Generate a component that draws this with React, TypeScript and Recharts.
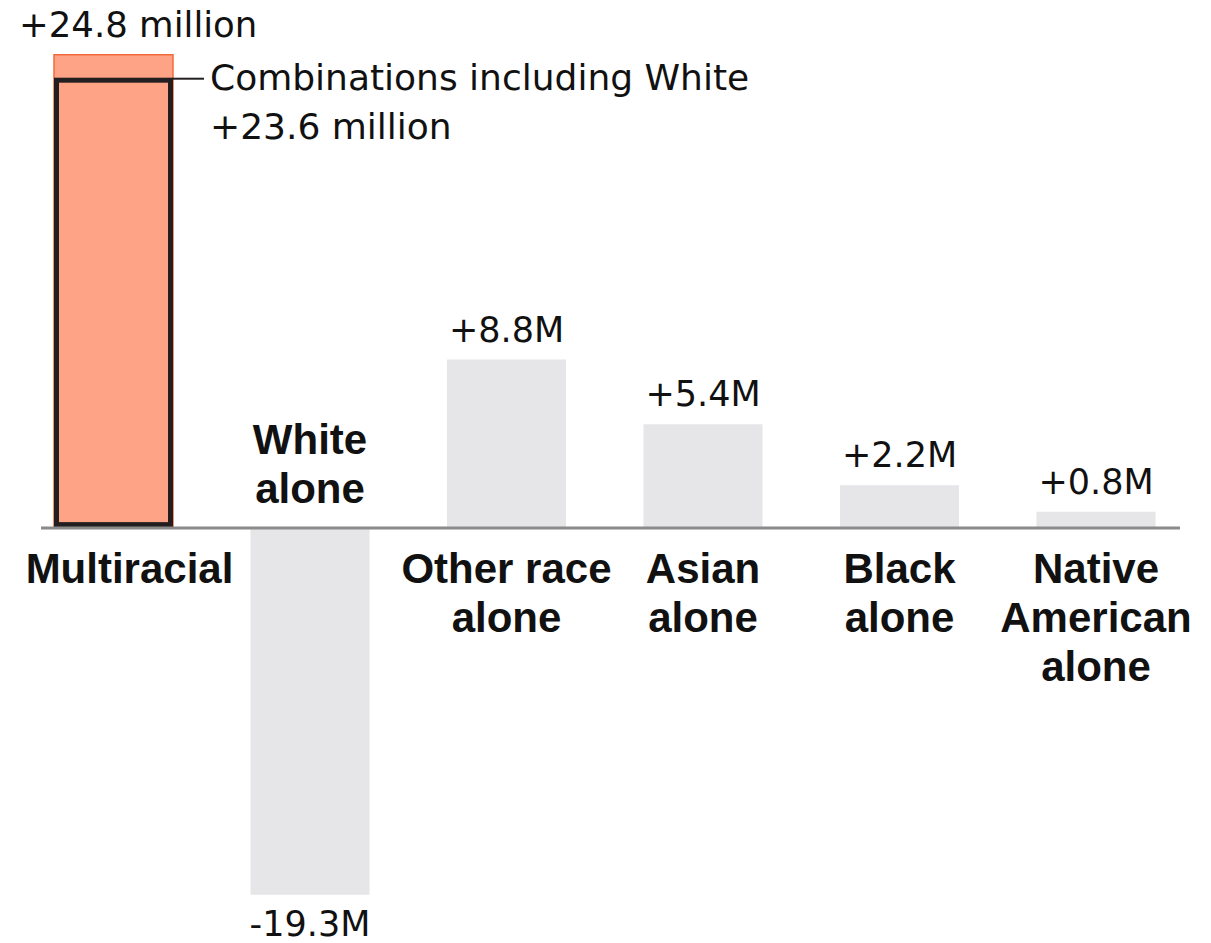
import React from "react";
import { BarChart, Bar, XAxis, YAxis, ReferenceLine, LabelList, Cell } from "recharts";

const categories = ["Multiracial", "White alone", "Other race alone", "Asian alone", "Black alone", "Native American alone"];
const changeMillions = [24.8, -19.3, 8.8, 5.4, 2.2, 0.8];
const whiteCombos = [23.6, null, null, null, null, null];
const valueLabels = ["+24.8 million", "-19.3M", "+8.8M", "+5.4M", "+2.2M", "+0.8M"];
const categoryLines = [["Multiracial"], ["White", "alone"], ["Other race", "alone"], ["Asian", "alone"], ["Black", "alone"], ["Native", "American", "alone"]];
const comboLabel = ["Combinations including White", "+23.6 million"];

const data = categories.map((c, i) => ({
  category: c,
  value: changeMillions[i],
  combo: whiteCombos[i],
  idx: i,
}));

const SALMON = "#FFA386";
const GRAY = "#E6E6E8";
const VALUE_FONT = "'DejaVu Sans', sans-serif";
const CAT_FONT = "'Liberation Sans', Arial, sans-serif";

const MainLabel = (props: any) => {
  const { x, y, width, height, index } = props;
  const v = changeMillions[index];
  const top = Math.min(y, y + height);
  const bottom = Math.max(y, y + height);
  const zero = v >= 0 ? bottom : top;
  const cx = x + width / 2;
  const lines = categoryLines[index];
  const lh = 49;
  const out: any[] = [];
  if (index === 0) {
    out.push(
      <text key="v" x={x - 35} y={top - 18} textAnchor="start" fontFamily={VALUE_FONT} fontSize={35.5} fill="#111">
        {valueLabels[index]}
      </text>
    );
  } else if (v >= 0) {
    out.push(
      <text key="v" x={cx} y={top - 18} textAnchor="middle" fontFamily={VALUE_FONT} fontSize={35} fill="#111">
        {valueLabels[index]}
      </text>
    );
  } else {
    out.push(
      <text key="v" x={cx} y={bottom + 41} textAnchor="middle" fontFamily={VALUE_FONT} fontSize={35} fill="#111">
        {valueLabels[index]}
      </text>
    );
  }
  const lx = index === 0 ? cx + 16 : cx;
  lines.forEach((ln, k) => {
    const by = v >= 0 ? zero + 56 + k * lh : zero - 24 - (lines.length - 1 - k) * lh;
    out.push(
      <text key={"c" + k} x={lx} y={by} textAnchor="middle" fontFamily={CAT_FONT} fontWeight="bold" fontSize={42} fill="#111">
        {ln}
      </text>
    );
  });
  return <g>{out}</g>;
};

const ComboShape = (props: any) => {
  const { x, y, width, height } = props;
  if (height == null || width == null || !isFinite(height)) return null;
  const top = Math.min(y, y + height);
  const h = Math.abs(height);
  const sw = 5;
  return (
    <g>
      <rect x={x + sw / 2} y={top + sw / 2} width={width - sw} height={h - sw} fill={SALMON} stroke="#231F20" strokeWidth={sw} />
      <line x1={x + width} x2={x + width + 31} y1={top + 1} y2={top + 1} stroke="#231F20" strokeWidth={2} />
      <text x={x + width + 37} y={top + 12} fontFamily={VALUE_FONT} fontSize={36} fill="#111">
        {comboLabel[0]}
      </text>
      <text x={x + width + 37} y={top + 61} fontFamily={VALUE_FONT} fontSize={36} fill="#111">
        {comboLabel[1]}
      </text>
    </g>
  );
};

const AxisLineShape = (props: any) => {
  const { x1, x2, y1 } = props;
  return <line x1={x1 + 26} x2={x2 - 14} y1={y1 + 1} y2={y1 + 1} stroke="#8A8A8A" strokeWidth={3} />;
};

export default function App() {
  return (
    <div style={{ position: "absolute", left: 0, top: 0, width: 1211, height: 943, background: "#fff" }}>
      <BarChart width={1211} height={943} data={data} margin={{ top: 32, right: 17, bottom: 16, left: 15 }}>
        <XAxis xAxisId="main" dataKey="category" hide />
        <XAxis xAxisId="combo" dataKey="category" hide />
        <YAxis domain={[-21, 26]} hide allowDataOverflow />
        <Bar xAxisId="main" dataKey="value" barSize={119} isAnimationActive={false}>
          {data.map((d, i) => (
            <Cell key={i} fill={i === 0 ? SALMON : GRAY} stroke={i === 0 ? "#F26B3C" : "none"} strokeWidth={i === 0 ? 1.5 : 0} />
          ))}
          <LabelList dataKey="value" content={MainLabel} />
        </Bar>
        <Bar xAxisId="combo" dataKey="combo" barSize={119} isAnimationActive={false} shape={ComboShape} />
        <ReferenceLine xAxisId="main" y={0} shape={AxisLineShape} ifOverflow="visible" />
      </BarChart>
    </div>
  );
}
